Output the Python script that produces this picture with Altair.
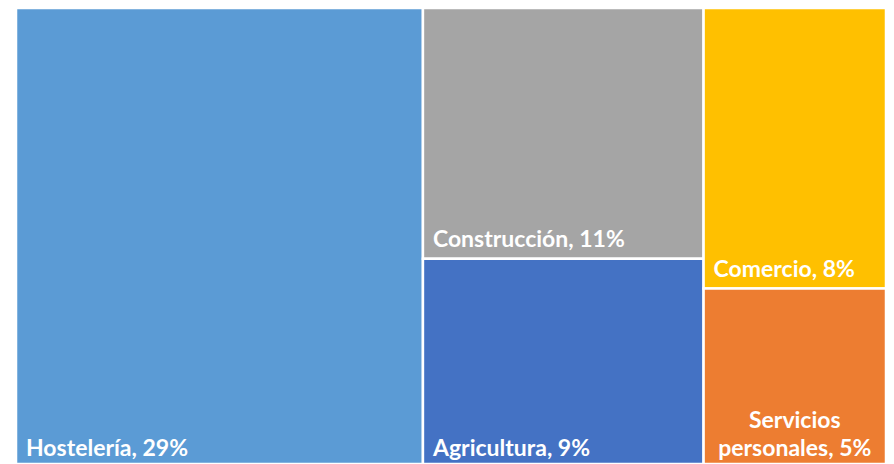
import altair as alt
import pandas as pd

# Data
names = ["Hostelería", "Construcción", "Agricultura", "Comercio", "Servicios personales"]
values = [29, 11, 9, 8, 5]
column = [0, 1, 1, 2, 2]  # treemap column each item belongs to
colors = ["#5B9BD5", "#A5A5A5", "#4472C4", "#FFC000", "#ED7D31"]

# Slice-and-dice treemap layout computed from the values
total = sum(values)
rows = []
x_cursor = 0.0
for c in sorted(set(column)):
    idx = [i for i, k in enumerate(column) if k == c]
    col_sum = sum(values[i] for i in idx)
    y_cursor = 0.0
    for i in idx:
        h = values[i] / col_sum
        rows.append({
            "name": names[i],
            "value": values[i],
            "x0": x_cursor,
            "x1": x_cursor + col_sum,
            "xm": x_cursor + col_sum / 2,
            "y0": y_cursor,
            "y1": y_cursor + h,
            "bottom": abs(y_cursor + h - 1.0) < 1e-9,
            "label": f"{names[i]}, {values[i]}%",
        })
        y_cursor += h
    x_cursor += col_sum

df = pd.DataFrame(rows)

xs = alt.Scale(domain=[0, total], nice=False, zero=False)
ys = alt.Scale(domain=[0, 1], nice=False, zero=False, reverse=True)
color = alt.Color("name:N", scale=alt.Scale(domain=names, range=colors), legend=None)

base = alt.Chart(df)

rects = base.mark_rect(stroke="white", strokeWidth=2.5).encode(
    x=alt.X("x0:Q", scale=xs, axis=None),
    x2="x1:Q",
    y=alt.Y("y0:Q", scale=ys, axis=None),
    y2="y1:Q",
    color=color,
)

font = "Lato"
fs = 23

text_top = base.transform_filter(
    "!datum.bottom"
).mark_text(
    align="left", baseline="alphabetic", dx=10, dy=-12,
    font=font, fontSize=fs, fontWeight="bold", color="white",
).encode(x=alt.X("x0:Q", scale=xs), y=alt.Y("y1:Q", scale=ys), text="label:N")

text_bottom = base.transform_filter(
    "datum.bottom && datum.name != 'Servicios personales'"
).mark_text(
    align="left", baseline="alphabetic", dx=10, dy=-8,
    font=font, fontSize=fs, fontWeight="bold", color="white",
).encode(x=alt.X("x0:Q", scale=xs), y=alt.Y("y1:Q", scale=ys), text="label:N")

text_wrap = base.transform_filter(
    "datum.name == 'Servicios personales'"
).transform_calculate(
    wrapped="'Servicios\\npersonales, ' + datum.value + '%'"
).mark_text(
    align="center", baseline="alphabetic", dy=-36, lineBreak="\n", lineHeight=28,
    font=font, fontSize=fs, fontWeight="bold", color="white",
).encode(x=alt.X("xm:Q", scale=xs), y=alt.Y("y1:Q", scale=ys), text="wrapped:N")

chart = alt.layer(rects, text_top, text_bottom, text_wrap).properties(
    width=870,
    height=456,
    autosize=alt.AutoSizeParams(type="none"),
    padding={"left": 8, "top": 0, "right": 0, "bottom": 0},
).configure_view(stroke=None)

chart.save("out.html", embed_options={"renderer": "svg", "actions": False})
